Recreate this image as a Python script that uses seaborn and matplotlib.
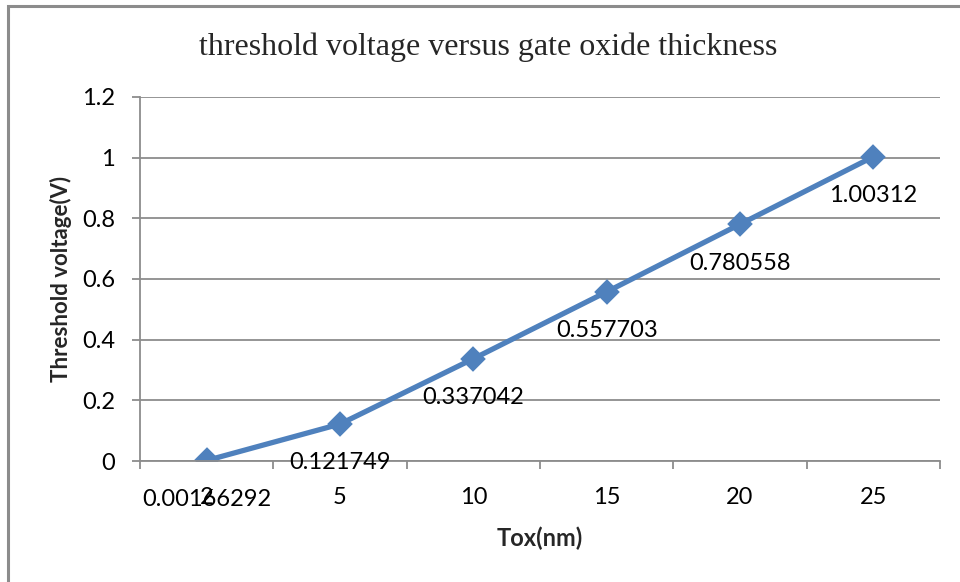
import matplotlib
matplotlib.use("Agg")
import matplotlib.pyplot as plt
import seaborn as sns
import pandas as pd
from matplotlib.patches import Rectangle

tox_labels = ["2", "5", "10", "15", "20", "25"]
vth_values = [0.00166292, 0.121749, 0.337042, 0.557703, 0.780558, 1.00312]
data_labels = ["0.00166292", "0.121749", "0.337042", "0.557703", "0.780558", "1.00312"]
y_ticks = [0, 0.2, 0.4, 0.6, 0.8, 1.0, 1.2]
y_tick_labels = ["0", "0.2", "0.4", "0.6", "0.8", "1", "1.2"]

df = pd.DataFrame({"Tox": tox_labels, "Vth": vth_values})

sns.set_style("white")
plt.rcParams["font.family"] = ["Lato", "DejaVu Sans"]

fig = plt.figure(figsize=(9.6, 5.82), dpi=100)
ax = fig.add_axes([140/960, 1-461/582, 800/960, (461-97)/582])

line_color = "#4F81BD"
grid_color = "#8C8C8C"

sns.pointplot(data=df, x="Tox", y="Vth", ax=ax, color=line_color, markers="D",
              markersize=10, linewidth=3.8, order=tox_labels, errorbar=None)

ax.set_xlim(-0.5, len(tox_labels) - 0.5)
ax.set_ylim(0, 1.2)
ax.set_yticks(y_ticks)
ax.set_yticklabels(y_tick_labels)
ax.yaxis.grid(True, color=grid_color, linewidth=1.3)
ax.set_axisbelow(True)

for s in ["top", "right"]:
    ax.spines[s].set_visible(False)
for s in ["left", "bottom"]:
    ax.spines[s].set_color(grid_color)
    ax.spines[s].set_linewidth(1.3)

ax.set_xticks(range(len(tox_labels)))
ax.set_xticklabels(tox_labels)
ax.set_xticks([i - 0.5 for i in range(len(tox_labels) + 1)], minor=True)
ax.tick_params(axis="x", which="major", length=0, pad=19, labelsize=17, labelcolor="black")
ax.tick_params(axis="x", which="minor", length=6, width=1.3, color=grid_color, direction="out")
ax.tick_params(axis="y", which="major", length=6, width=1.3, color=grid_color,
               direction="out", pad=12, labelsize=17, labelcolor="black")
ax.tick_params(left=True, bottom=False)
ax.tick_params(axis="x", which="minor", bottom=True)

for i, (v, lab) in enumerate(zip(vth_values, data_labels)):
    ax.annotate(lab, xy=(i, v), xytext=(0, -28), textcoords="offset points",
                ha="center", va="center", fontsize=17, color="black")

ax.set_xlabel("Tox(nm)", fontsize=17, fontweight="bold", labelpad=13)
ax.set_ylabel("Threshold voltage(V)", fontsize=16, fontweight="bold", labelpad=7)

fig.text(488/960, 1-47/582, "threshold voltage versus gate oxide thickness",
         ha="center", va="center", fontsize=23,
         family=["Liberation Serif", "DejaVu Serif"])

fig.patches.append(Rectangle((8/960, -0.1), 1.2, 1 - 6/582 + 0.1, transform=fig.transFigure,
                             fill=False, edgecolor="#8C8C8C", linewidth=2.2))

fig.savefig("out.png", dpi=100)
